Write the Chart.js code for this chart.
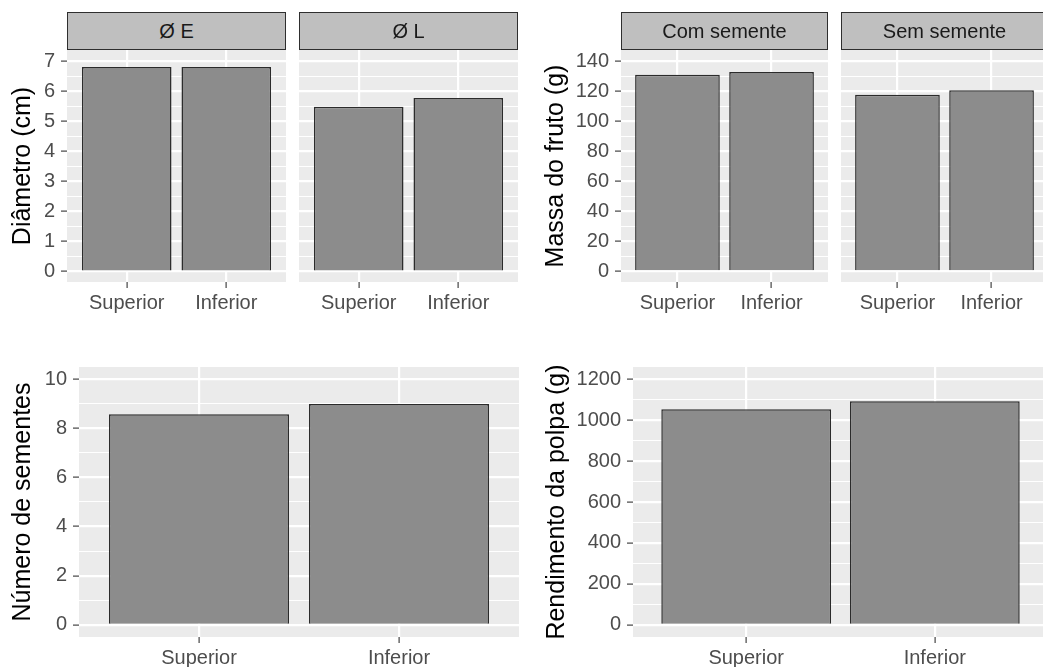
<!DOCTYPE html>
<html>
<head>
<meta charset="utf-8">
<script src="https://cdn.jsdelivr.net/npm/chart.js@4/dist/chart.umd.min.js"></script>
<style>
  html, body { margin: 0; padding: 0; width: 1043px; height: 667px; overflow: hidden; background: #ffffff; }
  canvas { position: absolute; }
  .strip {
    position: absolute; box-sizing: border-box;
    background: #bfbfbf; border: 1.6px solid #2e2e2e;
    color: #1a1a1a; font: 20px "Liberation Sans", Arial, sans-serif;
    display: flex; align-items: center; justify-content: center;
    z-index: 2;
  }
</style>
</head>
<body>
<script>
// Fruit position on the plant
const categories = ['Superior', 'Inferior'];

// Diameter facets (cm)
const diamStrips = ['Ø E', 'Ø L'];
const diamEValues = [6.81, 6.81];
const diamLValues = [5.49, 5.78];
const diamTicks = [0, 1, 2, 3, 4, 5, 6, 7];

// Fruit mass facets (g)
const massaStrips = ['Com semente', 'Sem semente'];
const massaComValues = [131.1, 132.9];
const massaSemValues = [117.8, 120.7];
const massaTicks = [0, 20, 40, 60, 80, 100, 120, 140];

// Seed count
const sementesValues = [8.58, 8.99];
const sementesTicks = [0, 2, 4, 6, 8, 10];

// Pulp yield (g)
const polpaValues = [1053, 1092];
const polpaTicks = [0, 200, 400, 600, 800, 1000, 1200];

const FONT = '"Liberation Sans", Arial, sans-serif';
const PAD_TOP = 20;

// Grey panel background behind the grid
const panelBg = {
  id: 'panelBg',
  beforeDraw(chart) {
    const { ctx, chartArea: a } = chart;
    ctx.save();
    ctx.fillStyle = '#ebebeb';
    ctx.fillRect(a.left, a.top, a.right - a.left, a.bottom - a.top);
    ctx.restore();
  }
};

// Major ticks plus the minor breaks halfway between them
function withMinor(major) {
  const all = [];
  major.forEach((v, i) => {
    all.push(v);
    if (i < major.length - 1) all.push((v + major[i + 1]) / 2);
  });
  return all;
}

function makePanel(p) {
  const cv = document.createElement('canvas');
  const cw = p.yW + p.w, ch = PAD_TOP + p.h + p.xH;
  cv.width = cw; cv.height = ch;
  cv.style.left = (p.left - p.yW) + 'px';
  cv.style.top = (p.top - PAD_TOP) + 'px';
  cv.style.width = cw + 'px'; cv.style.height = ch + 'px';
  document.body.appendChild(cv);

  if (p.strip) {
    const s = document.createElement('div');
    s.className = 'strip';
    s.textContent = p.strip;
    s.style.left = p.left + 'px';
    s.style.top = '12px';
    s.style.width = p.w + 'px';
    s.style.height = '38px';
    document.body.appendChild(s);
  }

  const majorSet = new Set(p.ticks);
  const allTicks = withMinor(p.ticks);
  const isMajor = v => majorSet.has(v);

  new Chart(cv, {
    type: 'bar',
    data: {
      datasets: [{
        data: categories.map((c, i) => ({ x: i + 1, y: p.values[i] })),
        backgroundColor: '#8c8c8c',
        borderColor: '#2b2b2b',
        borderWidth: 1.5,
        barPercentage: 0.9,
        categoryPercentage: 1
      }]
    },
    options: {
      responsive: false,
      animation: false,
      devicePixelRatio: 1,
      layout: { padding: { top: PAD_TOP, left: 0, right: 0, bottom: 0 } },
      plugins: { legend: { display: false }, tooltip: { enabled: false } },
      scales: {
        x: {
          type: 'linear', min: 0.4, max: categories.length + 0.6, offset: false,
          afterBuildTicks: s => { s.ticks = categories.map((c, i) => ({ value: i + 1 })); },
          afterFit: s => { s.height = p.xH; },
          border: { display: false },
          grid: { offset: false, color: '#ffffff', lineWidth: 2.2, tickColor: '#333333', tickWidth: 1.1, tickLength: 6 },
          ticks: {
            autoSkip: false, maxRotation: 0, padding: 3, color: '#4d4d4d',
            font: { family: FONT, size: 20 },
            callback: v => categories[Math.round(v) - 1]
          }
        },
        y: {
          type: 'linear', min: p.min, max: p.max,
          afterBuildTicks: s => { s.ticks = allTicks.map(v => ({ value: v })); },
          afterFit: s => { s.width = p.yW; },
          border: { display: false },
          grid: {
            color: '#ffffff',
            lineWidth: c => isMajor(c.tick.value) ? 2.2 : 1.1,
            tickColor: c => isMajor(c.tick.value) ? '#333333' : 'rgba(0,0,0,0)',
            tickWidth: 1.1, tickLength: 6, drawTicks: p.showY
          },
          ticks: {
            display: p.showY, autoSkip: false, padding: 6, color: '#4d4d4d',
            font: { family: FONT, size: 20 },
            callback: v => isMajor(v) ? String(v) : ''
          },
          title: {
            display: !!p.title, text: p.title || '', color: '#000000',
            font: { family: FONT, size: 25, lineHeight: 1.2 },
            padding: { top: 8, bottom: 0 }
          }
        }
      }
    },
    plugins: [panelBg]
  });
}

const topRow = { top: 50, h: 232, xH: 40 };
const bottomRow = { top: 367, h: 270, xH: 30 };

makePanel({ ...topRow, left: 67, w: 219, yW: 67, showY: true, title: 'Diâmetro (cm)',
  strip: diamStrips[0], values: diamEValues, ticks: diamTicks, min: -0.35, max: 7.38 });
makePanel({ ...topRow, left: 299, w: 219, yW: 0, showY: false,
  strip: diamStrips[1], values: diamLValues, ticks: diamTicks, min: -0.35, max: 7.38 });
makePanel({ ...topRow, left: 621, w: 207, yW: 88, showY: true, title: 'Massa do fruto (g)',
  strip: massaStrips[0], values: massaComValues, ticks: massaTicks, min: -7.03, max: 147.6 });
makePanel({ ...topRow, left: 841, w: 207, yW: 0, showY: false,
  strip: massaStrips[1], values: massaSemValues, ticks: massaTicks, min: -7.03, max: 147.6 });
makePanel({ ...bottomRow, left: 79, w: 440, yW: 79, showY: true, title: 'Número de sementes',
  values: sementesValues, ticks: sementesTicks, min: -0.5, max: 10.5 });
makePanel({ ...bottomRow, left: 633, w: 415, yW: 99, showY: true, title: 'Rendimento da polpa (g)',
  values: polpaValues, ticks: polpaTicks, min: -60, max: 1260 });
</script>
</body>
</html>
